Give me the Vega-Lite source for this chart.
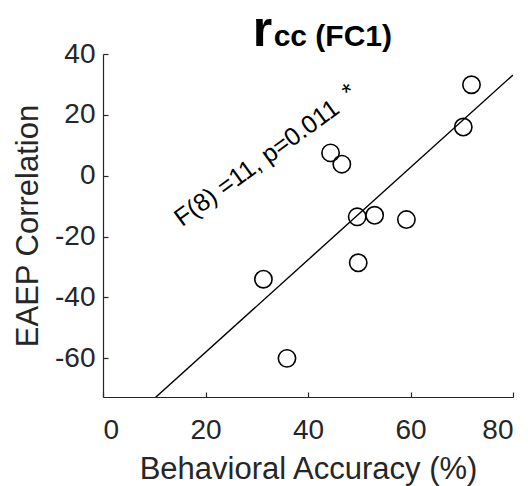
{
  "$schema": "https://vega.github.io/schema/vega-lite/v6.json",
  "width": 410,
  "height": 343,
  "autosize": {"type": "none"},
  "padding": {"left": 103, "top": 54, "right": 15, "bottom": 89},
  "background": "white",
  "config": {
    "view": {"stroke": null},
    "font": "Liberation Sans",
    "axis": {
      "grid": false,
      "domainColor": "#262626",
      "tickColor": "#262626",
      "labelColor": "#262626",
      "titleColor": "#262626",
      "labelFontSize": 28,
      "titleFontSize": 31,
      "titleFontWeight": "normal",
      "tickSize": -5,
      "domainWidth": 1.2,
      "tickWidth": 1.2,
      "labelExpr": "toString(datum.value)"
    }
  },
  "data": {
    "values": [
      {"acc": 71.9, "corr": 29.9},
      {"acc": 70.3, "corr": 16.0},
      {"acc": 44.4, "corr": 7.5},
      {"acc": 46.6, "corr": 3.8},
      {"acc": 49.6, "corr": -13.5},
      {"acc": 53.0, "corr": -13.0},
      {"acc": 59.2, "corr": -14.4},
      {"acc": 49.8, "corr": -28.6},
      {"acc": 31.3, "corr": -34.0},
      {"acc": 35.9, "corr": -60.0}
    ]
  },
  "layer": [
    {
      "mark": {"type": "point", "shape": "circle", "filled": false, "size": 300, "strokeWidth": 1.6, "color": "black", "opacity": 1},
      "encoding": {
        "x": {
          "field": "acc", "type": "quantitative",
          "scale": {"domain": [0, 80], "nice": false, "zero": false},
          "axis": {"values": [0, 20, 40, 60, 80], "title": "Behavioral Accuracy (%)", "labelPadding": 24, "titlePadding": 10}
        },
        "y": {
          "field": "corr", "type": "quantitative",
          "scale": {"domain": [-72.7, 40], "nice": false, "zero": false},
          "axis": {"values": [-60, -40, -20, 0, 20, 40], "title": "EAEP Correlation", "labelPadding": 13, "titlePadding": 10}
        }
      }
    },
    {
      "transform": [{"regression": "corr", "on": "acc", "extent": [0, 80]}],
      "mark": {"type": "line", "clip": true, "color": "black", "strokeWidth": 1.4},
      "encoding": {
        "x": {"field": "acc", "type": "quantitative"},
        "y": {"field": "corr", "type": "quantitative"}
      }
    },
    {
      "data": {"values": [{}]},
      "mark": {"type": "text", "text": "F(8) =11, p=0.011", "angle": -36, "align": "center", "baseline": "middle", "fontSize": 25, "color": "black", "font": "Liberation Sans"},
      "encoding": {"x": {"datum": 30.0}, "y": {"datum": 4.2}}
    },
    {
      "data": {"values": [{}]},
      "mark": {"type": "text", "text": "*", "angle": -36, "align": "center", "baseline": "middle", "fontSize": 25, "color": "black", "font": "Liberation Sans"},
      "encoding": {"x": {"datum": 48.0}, "y": {"datum": 27.5}}
    },
    {
      "data": {"values": [{}]},
      "mark": {"type": "text", "text": "r", "align": "right", "baseline": "alphabetic", "fontSize": 50, "fontWeight": "bold", "color": "black", "font": "Liberation Sans"},
      "encoding": {"x": {"datum": 33.0}, "y": {"datum": 42.5}}
    },
    {
      "data": {"values": [{}]},
      "mark": {"type": "text", "text": "cc (FC1)", "align": "left", "baseline": "alphabetic", "fontSize": 30, "fontWeight": "bold", "color": "black", "font": "Liberation Sans"},
      "encoding": {"x": {"datum": 33.3}, "y": {"datum": 42.5}}
    }
  ]
}
